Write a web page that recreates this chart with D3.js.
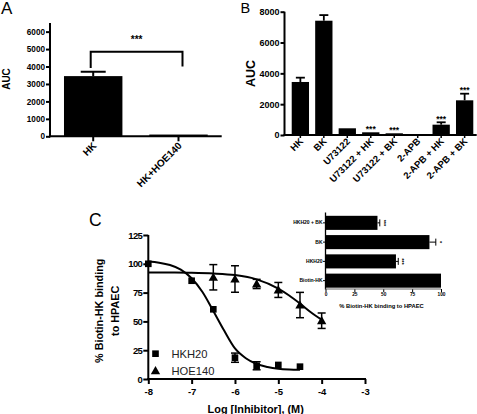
<!DOCTYPE html>
<html><head><meta charset="utf-8">
<script src="https://cdn.jsdelivr.net/npm/d3@7"></script>
<style>
html,body{margin:0;padding:0;background:#fff;}
text{font-family:"Liberation Sans",Arial,sans-serif;}
</style></head>
<body>
<svg id="c" width="477" height="414"></svg>
<script>
// ---------- DATA ----------
// Panel A
const aCats = ["HK", "HK+HOE140"];
const aVals = [3450, 100];
const aSem  = [250, 0];
const aTicks = [0, 1000, 2000, 3000, 4000, 5000, 6000];
const aSig = "***";
// Panel B
const bCats = ["HK", "BK", "U73122", "U73122 + HK", "U73122 + BK", "2-APB", "2-APB + HK", "2-APB + BK"];
const bVals = [3440, 7415, 435, 175, 110, 45, 670, 2250];
const bSem  = [280, 365, 0, 0, 0, 0, 155, 430];
const bSig  = ["", "", "", "***", "***", "", "***", "***"];
const bTicks = [0, 2000, 4000, 6000, 8000];
// Panel C
const cXTicks = [-8, -7, -6, -5, -4, -3];
const cYTicks = [0, 25, 50, 75, 100, 125];
const hkhLog = [-8, -7, -6.5, -6, -5.5, -5, -4.5];
const hkhVal = [100, 85.3, 60.5, 18.5, 11.5, 12.2, 10.7];
const hkhSem = [0, 0, 0, 4, 3.5, 0, 0];
const hoeLog = [-6.5, -6, -5.5, -5, -4.5, -4];
const hoeVal = [88.3, 86.8, 82.5, 77.3, 64.2, 50.6];
const hoeSem = [11, 11.5, 4, 6.5, 11, 6.7];
// fitted curves
const hkhFitLog = [-8, -7.75, -7.5, -7.25, -7, -6.75, -6.5, -6.25, -6, -5.75, -5.5, -5.25, -5, -4.75, -4.5];
const hkhFitVal = [102, 101, 99, 95, 87.5, 75.5, 59, 42, 26.5, 18, 13, 10.5, 9, 8.3, 8];
const hoeFitLog = [-8, -7.5, -7, -6.5, -6, -5.5, -5, -4.75, -4.5, -4.25, -4];
const hoeFitVal = [92.5, 92.4, 92.2, 91.6, 90.2, 86.5, 78.5, 72.5, 65.5, 58, 51.5];
const seriesNames = ["HKH20", "HOE140"];
// Inset
const inCats = ["HKH20 + BK", "BK", "HKH20", "Biotin-HK"];
const inVals = [45, 90, 61, 100];
const inSem  = [2, 5.5, 2, 0];
const inSig  = ["***", "*", "***", ""];
const inTicks = [0, 25, 50, 75, 100];

// ---------- DRAW ----------
const svg = d3.select("#c");
const F = '"Liberation Sans",Arial,sans-serif';

function styleAxis(g, w) {
  g.selectAll(".domain").remove();
  g.selectAll("line").attr("stroke", "#000").attr("stroke-width", w);
  g.selectAll("text").attr("font-family", F).attr("font-weight", "bold").attr("fill", "#000");
}

// ===== Panel A =====
{
  const x = d3.scaleBand().domain(aCats).range([50, 221.7]).paddingInner(0.315).paddingOuter(0.164);
  const y = d3.scaleLinear().domain([0, 6500]).range([136.3, 22.9]);
  const g = svg.append("g");
  g.selectAll("rect.bar").data(aCats).join("rect")
    .attr("x", d => x(d)).attr("width", x.bandwidth())
    .attr("y", (d, i) => y(aVals[i])).attr("height", (d, i) => y(0) - y(aVals[i]))
    .attr("fill", "#000");
  aCats.forEach((c, i) => {
    if (aSem[i] > 0) {
      const cx = x(c) + x.bandwidth() / 2;
      g.append("line").attr("x1", cx).attr("x2", cx).attr("y1", y(aVals[i])).attr("y2", y(aVals[i] + aSem[i])).attr("stroke", "#000").attr("stroke-width", 2);
      g.append("line").attr("x1", cx - 12.5).attr("x2", cx + 12.5).attr("y1", y(aVals[i] + aSem[i])).attr("y2", y(aVals[i] + aSem[i])).attr("stroke", "#000").attr("stroke-width", 2);
    }
  });
  const ya = g.append("g").attr("transform", "translate(50,0)")
    .call(d3.axisLeft(y).tickValues(aTicks).tickSize(4).tickPadding(1).tickFormat(d3.format("d")));
  styleAxis(ya, 2); ya.selectAll("text").attr("font-size", 8.2);
  g.append("line").attr("x1", 50).attr("x2", 50).attr("y1", y.range()[1]).attr("y2", y(0) + 1).attr("stroke", "#000").attr("stroke-width", 2);
  g.append("line").attr("x1", 49).attr("x2", 221.7).attr("y1", y(0)).attr("y2", y(0)).attr("stroke", "#000").attr("stroke-width", 2);
  aCats.forEach(c => {
    const cx = x(c) + x.bandwidth() / 2;
    g.append("line").attr("x1", cx).attr("x2", cx).attr("y1", y(0)).attr("y2", y(0) + 5).attr("stroke", "#000").attr("stroke-width", 2);
    g.append("text").attr("transform", `translate(${cx + 4},${y(0) + 10}) rotate(-45)`)
      .attr("text-anchor", "end").attr("font-size", 10).attr("font-weight", "bold").attr("font-family", F).text(c);
  });
  // significance bracket
  const x1 = x(aCats[0]) + x.bandwidth() / 2 - 2.5, x2 = x(aCats[1]) + x.bandwidth() / 2 + 4;
  g.append("path").attr("d", `M${x1},${y(4000) + 1.5}V${y(4850)}H${x2}V${y(4000)}`)
    .attr("fill", "none").attr("stroke", "#000").attr("stroke-width", 2);
  g.append("text").attr("x", (x1 + x2) / 2).attr("y", y(5350)).attr("text-anchor", "middle")
    .attr("font-size", 10).attr("font-weight", "bold").attr("font-family", F).text(aSig);
  g.append("text").attr("transform", `translate(9.5,79) rotate(-90)`).attr("text-anchor", "middle")
    .attr("font-size", 10).attr("font-weight", "bold").attr("font-family", F).text("AUC");
  g.append("text").attr("x", 1).attr("y", 14).attr("font-size", 17).attr("font-family", F).text("A");
}

// ===== Panel B =====
{
  const x = d3.scaleBand().domain(bCats).range([288.9, 476.1]).paddingInner(0.263).paddingOuter(0.12);
  const y = d3.scaleLinear().domain([0, 8000]).range([135, 11.7]);
  const g = svg.append("g");
  g.selectAll("rect.bar").data(bCats).join("rect")
    .attr("x", d => x(d)).attr("width", x.bandwidth())
    .attr("y", (d, i) => y(bVals[i])).attr("height", (d, i) => y(0) - y(bVals[i]))
    .attr("fill", "#000");
  bCats.forEach((c, i) => {
    const cx = x(c) + x.bandwidth() / 2;
    const top = bVals[i] + bSem[i];
    if (bSem[i] > 0) {
      g.append("line").attr("x1", cx).attr("x2", cx).attr("y1", y(bVals[i])).attr("y2", y(top)).attr("stroke", "#000").attr("stroke-width", 1.8);
      g.append("line").attr("x1", cx - 4.5).attr("x2", cx + 4.5).attr("y1", y(top)).attr("y2", y(top)).attr("stroke", "#000").attr("stroke-width", 1.8);
    }
    if (bSig[i]) {
      g.append("text").attr("x", cx).attr("y", y(top) - 0.5).attr("text-anchor", "middle")
        .attr("font-size", 8.5).attr("font-weight", "bold").attr("font-family", F).text(bSig[i]);
    }
    g.append("line").attr("x1", cx).attr("x2", cx).attr("y1", y(0)).attr("y2", y(0) + 3).attr("stroke", "#000").attr("stroke-width", 1.5);
    g.append("text").attr("transform", `translate(${cx + 3.5},${y(0) + 7}) rotate(-45)`)
      .attr("text-anchor", "end").attr("font-size", 9.5).attr("font-weight", "bold").attr("font-family", F).text(c);
  });
  const ya = g.append("g").attr("transform", "translate(284.5,0)")
    .call(d3.axisLeft(y).tickValues(bTicks).tickSize(4).tickPadding(1).tickFormat(d3.format("d")));
  styleAxis(ya, 2); ya.selectAll("text").attr("font-size", 9);
  g.append("line").attr("x1", 284.5).attr("x2", 284.5).attr("y1", y(8000)).attr("y2", y(0) + 1).attr("stroke", "#000").attr("stroke-width", 2);
  g.append("line").attr("x1", 283.5).attr("x2", 476.7).attr("y1", y(0)).attr("y2", y(0)).attr("stroke", "#000").attr("stroke-width", 2);
  g.append("text").attr("transform", `translate(254.5,73.5) rotate(-90)`).attr("text-anchor", "middle")
    .attr("font-size", 12.5).attr("font-weight", "bold").attr("font-family", F).text("AUC");
  g.append("text").attr("x", 240.5).attr("y", 13).attr("font-size", 14.5).attr("font-family", F).text("B");
}

// ===== Panel C =====
{
  const x = d3.scaleLinear().domain([-8, -3]).range([148.3, 365]);
  const y = d3.scaleLinear().domain([0, 125]).range([379, 235]);
  const g = svg.append("g");
  const xa = g.append("g").attr("transform", `translate(0,${y(0)})`)
    .call(d3.axisBottom(x).tickValues(cXTicks).tickSize(5).tickPadding(4).tickFormat(d => "-" + Math.abs(d)));
  styleAxis(xa, 2); xa.selectAll("text").attr("font-size", 9.5);
  const ya = g.append("g").attr("transform", `translate(${x(-8)},0)`)
    .call(d3.axisLeft(y).tickValues(cYTicks).tickSize(5).tickPadding(1));
  styleAxis(ya, 2); ya.selectAll("text").attr("font-size", 9.5).attr("letter-spacing", -0.6);
  g.append("line").attr("x1", x(-8)).attr("x2", x(-8)).attr("y1", y(125)).attr("y2", y(0) + 1).attr("stroke", "#000").attr("stroke-width", 2);
  g.append("line").attr("x1", x(-8) - 1).attr("x2", x(-3) + 1).attr("y1", y(0)).attr("y2", y(0)).attr("stroke", "#000").attr("stroke-width", 2);

  const line = d3.line().x(d => x(d[0])).y(d => y(d[1])).curve(d3.curveMonotoneX);
  g.append("path").attr("d", line(hkhFitLog.map((v, i) => [v, hkhFitVal[i]])))
    .attr("fill", "none").attr("stroke", "#000").attr("stroke-width", 2);
  g.append("path").attr("d", line(hoeFitLog.map((v, i) => [v, hoeFitVal[i]])))
    .attr("fill", "none").attr("stroke", "#000").attr("stroke-width", 2);

  function errbars(logs, vals, sems) {
    logs.forEach((l, i) => {
      if (sems[i] <= 0) return;
      const cx = x(l);
      g.append("line").attr("x1", cx).attr("x2", cx).attr("y1", y(vals[i] - sems[i])).attr("y2", y(vals[i] + sems[i])).attr("stroke", "#000").attr("stroke-width", 1.5);
      [vals[i] - sems[i], vals[i] + sems[i]].forEach(v =>
        g.append("line").attr("x1", cx - 4).attr("x2", cx + 4).attr("y1", y(v)).attr("y2", y(v)).attr("stroke", "#000").attr("stroke-width", 1.5));
    });
  }
  errbars(hkhLog, hkhVal, hkhSem);
  errbars(hoeLog, hoeVal, hoeSem);
  const sq = d3.symbol().type(d3.symbolSquare).size(44);
  const tri = d3.symbol().type(d3.symbolTriangle).size(38);
  g.selectAll("path.sq").data(hkhLog).join("path").attr("d", sq)
    .attr("transform", (d, i) => `translate(${x(d)},${y(hkhVal[i])})`).attr("fill", "#000");
  g.selectAll("path.tri").data(hoeLog).join("path").attr("d", tri)
    .attr("transform", (d, i) => `translate(${x(d)},${y(hoeVal[i]) + 0.8})`).attr("fill", "#000");

  // legend
  g.append("path").attr("d", sq).attr("transform", "translate(155.5,353.7)").attr("fill", "#000");
  g.append("path").attr("d", tri).attr("transform", "translate(155.5,371.5)").attr("fill", "#000");
  g.append("text").attr("x", 171.5).attr("y", 357.7).attr("font-size", 11.2).attr("fill", "#222").attr("font-family", F).text(seriesNames[0]);
  g.append("text").attr("x", 171.5).attr("y", 374.7).attr("font-size", 11.2).attr("fill", "#222").attr("font-family", F).text(seriesNames[1]);

  g.append("text").attr("x", 255.7).attr("y", 412.5).attr("text-anchor", "middle")
    .attr("font-size", 10.9).attr("font-weight", "bold").attr("font-family", F).text("Log [Inhibitor], (M)");
  g.append("text").attr("transform", "translate(103,310.8) rotate(-90)").attr("text-anchor", "middle")
    .attr("font-size", 10.8).attr("font-weight", "bold").attr("font-family", F).text("% Biotin-HK binding");
  g.append("text").attr("transform", "translate(118.5,310.8) rotate(-90)").attr("text-anchor", "middle")
    .attr("font-size", 10.8).attr("font-weight", "bold").attr("font-family", F).text("to HPAEC");
  g.append("text").attr("x", 89).attr("y", 226).attr("font-size", 17.5).attr("font-family", F).text("C");
}

// ===== Inset =====
{
  const x = d3.scaleLinear().domain([0, 100]).range([325.5, 441]);
  const y = d3.scaleBand().domain(inCats).range([213.5, 290]).paddingInner(0.27).paddingOuter(0.12);
  const g = svg.append("g");
  g.selectAll("rect").data(inCats).join("rect")
    .attr("x", x(0)).attr("y", d => y(d)).attr("height", y.bandwidth())
    .attr("width", (d, i) => x(inVals[i]) - x(0)).attr("fill", "#000");
  inCats.forEach((c, i) => {
    const cy = y(c) + y.bandwidth() / 2;
    if (inSem[i] > 0) {
      const r = x(inVals[i] + inSem[i]);
      g.append("line").attr("x1", x(inVals[i])).attr("x2", r).attr("y1", cy).attr("y2", cy).attr("stroke", "#000").attr("stroke-width", 1);
      g.append("line").attr("x1", r).attr("x2", r).attr("y1", cy - 3.5).attr("y2", cy + 3.5).attr("stroke", "#000").attr("stroke-width", 1);
      g.append("text").attr("transform", `translate(${r + 2},${cy}) rotate(90)`).attr("text-anchor", "middle")
        .attr("font-size", 5.5).attr("font-weight", "bold").attr("font-family", F).text(inSig[i]);
    }
  });
  const ya = g.append("g").attr("transform", `translate(${x(0)},0)`)
    .call(d3.axisLeft(y).tickSize(2.5).tickPadding(0.5));
  styleAxis(ya, 1); ya.selectAll("text").attr("font-size", 5);
  const xa = g.append("g").attr("transform", `translate(0,289)`)
    .call(d3.axisBottom(x).tickValues(inTicks).tickSize(3).tickPadding(1));
  styleAxis(xa, 1); xa.selectAll("text").attr("font-size", 4.8);
  g.append("line").attr("x1", x(0)).attr("x2", x(0)).attr("y1", 212.5).attr("y2", 289.5).attr("stroke", "#000").attr("stroke-width", 1.3);
  g.append("line").attr("x1", x(0)).attr("x2", x(100)).attr("y1", 289).attr("y2", 289).attr("stroke", "#666").attr("stroke-width", 1.2);
  g.append("text").attr("x", 381.5).attr("y", 308).attr("text-anchor", "middle")
    .attr("font-size", 5.8).attr("font-weight", "bold").attr("font-family", F).text("% Biotin-HK binding to HPAEC");
}
</script>
</body></html>
